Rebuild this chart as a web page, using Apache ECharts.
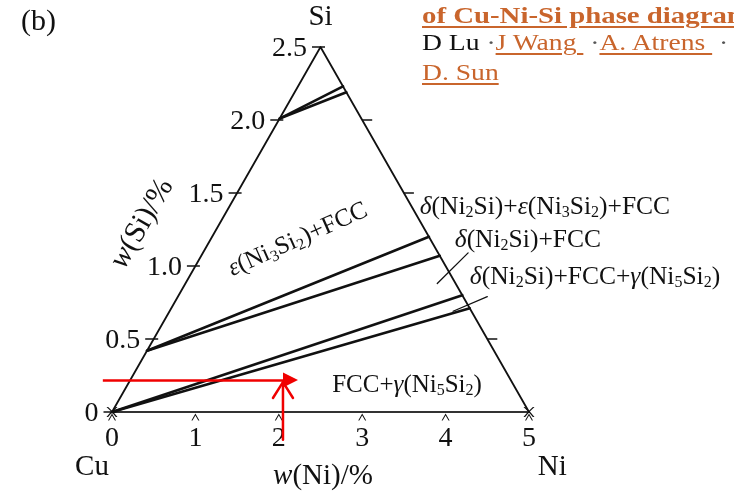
<!DOCTYPE html>
<html>
<head>
<meta charset="utf-8">
<script src="https://cdn.jsdelivr.net/npm/echarts@6/dist/echarts.min.js"></script>
<style>
  html, body { margin: 0; padding: 0; width: 734px; height: 500px; overflow: hidden; background: #fff; }
  #chart { position: absolute; left: 0; top: 0; width: 734px; height: 500px; }
  .ref { position: absolute; left: 422px; white-space: nowrap; font-family: 'Liberation Serif', serif;
         font-size: 24px; line-height: 28px; color: #c9652c; transform-origin: 0 0; transform: scaleX(1.15); }
  .ref a { color: #c9652c; text-decoration: underline; text-decoration-thickness: 2px; text-underline-offset: 3px; }
  .ref .plain { color: #111; }
  .ref .dot { color: #555; }
</style>
</head>
<body>
<div id="chart"></div>
<div class="ref" style="top:1px;font-weight:bold;transform:scaleX(1.2)"><a>of Cu-Ni-Si phase diagram</a></div>
<div class="ref" style="top:28px"><span class="plain">D Lu</span><span class="dot">&nbsp;·</span><a>J Wang </a><span class="dot">&nbsp;·</span><a>A. Atrens </a><span class="dot">&nbsp;·</span></div>
<div class="ref" style="top:58px"><a>D. Sun</a></div>
<script>
// Isothermal section of the Cu-rich corner of Cu-Ni-Si, w(Ni) vs w(Si) in %.
const cuCorner = [0, 0];
const niCorner = [5, 0];
const siCorner = [2.5, 2.5];
const baseLine = [[-0.12, 0], [5.13, 0]];

const niTicks = [0, 1, 2, 3, 4, 5];
const siTicks = [0, 0.5, 1.0, 1.5, 2.0, 2.5];
const siTickLabels = ['0', '0.5', '1.0', '1.5', '2.0', '2.5'];
const rightEdgeTicks = [2.0, 1.5, 0.5];

// phase boundaries: each fan starts at one point and ends on the Ni-Si edge
const upperStart = [2.01, 2.01];
const upperEnds = [[2.77, 2.23], [2.81, 2.19]];
const middleStart = [0.42, 0.42];
const middleEnds = [[3.80, 1.20], [3.93, 1.07]];
const lowerStart = [0, 0];
const lowerEnds = [[4.20, 0.80], [4.29, 0.71]];

// leader lines to the region names on the right
const leaderLines = [
  [[3.90, 0.88], [4.27, 1.09]],
  [[4.09, 0.69], [4.50, 0.79]]
];

// composition read-off arrows
const readSi = 0.22;
const readNi = 2.05;
const hArrow = [[-0.11, readSi], [2.14, readSi]];
const vArrow = [[readNi, -0.19], [readNi, 0.205]];
const vHead = [[1.93, 0.096], [readNi, 0.205], [2.17, 0.096]];

const regionTexts = [
  '{g|δ}(Ni{s|2}Si)+{g|ε}(Ni{s|3}Si{s|2})+FCC',
  '{g|δ}(Ni{s|2}Si)+FCC',
  '{g|δ}(Ni{s|2}Si)+FCC+{g|γ}(Ni{s|5}Si{s|2})',
  'FCC+{g|γ}(Ni{s|5}Si{s|2})',
  '{g|ε}(Ni{s|3}Si{s|2})+FCC'
];
const cornerNames = ['Si', 'Cu', 'Ni'];
const axisTitles = ['{g|w}(Ni)/%', '{g|w}(Si)/%'];

const FONT = 'Liberation Serif';
const INK = '#111111';
const RED = '#f00000';

function seg(points, width, color, z) {
  return {
    type: 'line', data: points, symbol: 'none', clip: false, silent: true,
    animation: false, z: z || 3,
    lineStyle: { width: width, color: color, cap: 'round', join: 'round', opacity: 1 }
  };
}

function textItem(pos, text, position, rotate, size) {
  const fs = size || 25;
  return {
    value: pos,
    label: {
      show: true, formatter: text, position: position, distance: 0, rotate: rotate || 0,
      fontFamily: FONT, fontSize: fs, lineHeight: 28, color: INK, textBorderWidth: 0,
      rich: {
        g: { fontStyle: 'italic', fontFamily: FONT, fontSize: fs, lineHeight: 28, color: INK, textBorderWidth: 0 },
        s: { fontFamily: FONT, fontSize: Math.round(fs * 0.64), lineHeight: 13, verticalAlign: 'bottom', color: INK, textBorderWidth: 0 }
      }
    }
  };
}

const series = [];

// triangle sides
series.push(seg([cuCorner, siCorner, niCorner], 1.8, INK));
series.push(seg(baseLine, 2, '#333'));

// phase boundaries
[[upperStart, upperEnds], [middleStart, middleEnds], [lowerStart, lowerEnds]].forEach(function (fan) {
  fan[1].forEach(function (end) { series.push(seg([fan[0], end], 2.6, INK, 4)); });
});
leaderLines.forEach(function (l) { series.push(seg(l, 1.3, INK)); });

const solid = { color: INK, opacity: 1 };

// tick marks along the Cu-Si side with their labels
series.push({
  type: 'scatter', clip: false, silent: true, animation: false, z: 5,
  data: siTicks.map(function (s) { return [s, s]; }),
  symbol: 'rect', symbolSize: [13, 1.5], symbolOffset: [-2, 0],
  itemStyle: solid,
  label: {
    show: true, position: 'left', distance: 5, offset: [0, 2],
    fontFamily: FONT, fontSize: 28, color: INK, textBorderWidth: 0,
    formatter: function (p) { return siTickLabels[p.dataIndex]; }
  }
});
// tick marks along the Ni-Si side
series.push({
  type: 'scatter', clip: false, silent: true, animation: false, z: 5,
  data: rightEdgeTicks.map(function (s) { return [niCorner[0] - s, s]; }),
  symbol: 'rect', symbolSize: [10, 1.5], symbolOffset: [5, 0],
  itemStyle: solid
});
// caret ticks under the Cu-Ni side
series.push({
  type: 'scatter', clip: false, silent: true, animation: false, z: 5,
  data: niTicks.map(function (n) { return [n, 0]; }),
  symbol: 'path://M0,10 L5,0 L10,10 L8.6,10 L5,2.8 L1.4,10 Z', symbolSize: [8, 7], symbolOffset: [0, 5],
  itemStyle: solid
});
// corner crosses
series.push({
  type: 'scatter', clip: false, silent: true, animation: false, z: 5,
  data: [cuCorner, niCorner],
  symbol: 'path://M0,0 L1.5,0 L5,3.8 L8.5,0 L10,0 L5.8,4.6 L10,10 L8.5,10 L5,5.4 L1.5,10 L0,10 L4.2,4.6 Z',
  symbolSize: [11, 10], itemStyle: solid
});

// read-off arrows
series.push({
  type: 'lines', coordinateSystem: 'cartesian2d', clip: false, silent: true, animation: false, z: 6,
  symbol: ['none', 'triangle'], symbolSize: 15,
  lineStyle: { color: RED, width: 2.5, opacity: 1, curveness: 0 },
  data: [{ coords: hArrow }]
});
series.push(seg(vArrow, 2.5, RED, 6));
series.push(seg(vHead, 2.5, RED, 6));

// text annotations
series.push({
  type: 'scatter', clip: false, silent: true, animation: false, z: 7,
  symbolSize: 0, itemStyle: solid,
  data: [
    textItem([3.69, 1.404], regionTexts[0], 'right', 0, 25.5),
    textItem([4.11, 1.178], regionTexts[1], 'right', 0, 25.5),
    textItem([4.29, 0.925], regionTexts[2], 'right', 0, 25.5),
    textItem([2.64, 0.185], regionTexts[3], 'right'),
    textItem([2.23, 1.18], regionTexts[4], 'inside', 24),
    textItem([2.5, 2.70], cornerNames[0], 'inside', 0, 29),
    textItem([-0.24, -0.377], cornerNames[1], 'inside', 0, 29),
    textItem([5.28, -0.377], cornerNames[2], 'inside', 0, 29),
    textItem([2.53, -0.44], axisTitles[0], 'inside', 0, 29),
    textItem([0.36, 1.29], axisTitles[1], 'inside', 60, 30)
  ]
});

const chart = echarts.init(document.getElementById('chart'), null, { renderer: 'canvas' });
chart.setOption({
  animation: false,
  backgroundColor: '#ffffff',
  title: {
    text: '(b)', left: 16, top: 2,
    textStyle: { fontFamily: FONT, fontSize: 30, fontWeight: 'normal', color: INK }
  },
  grid: { left: 112, top: 47, width: 417, height: 365, containLabel: false, outerBoundsMode: 'none' },
  xAxis: {
    type: 'value', min: 0, max: 5, interval: 1,
    axisLine: { show: false }, axisTick: { show: false }, splitLine: { show: false },
    axisLabel: { margin: 13, fontFamily: FONT, fontSize: 28, color: INK }
  },
  yAxis: {
    type: 'value', min: 0, max: 2.5, interval: 0.5, show: false
  },
  series: series
});
</script>
</body>
</html>
